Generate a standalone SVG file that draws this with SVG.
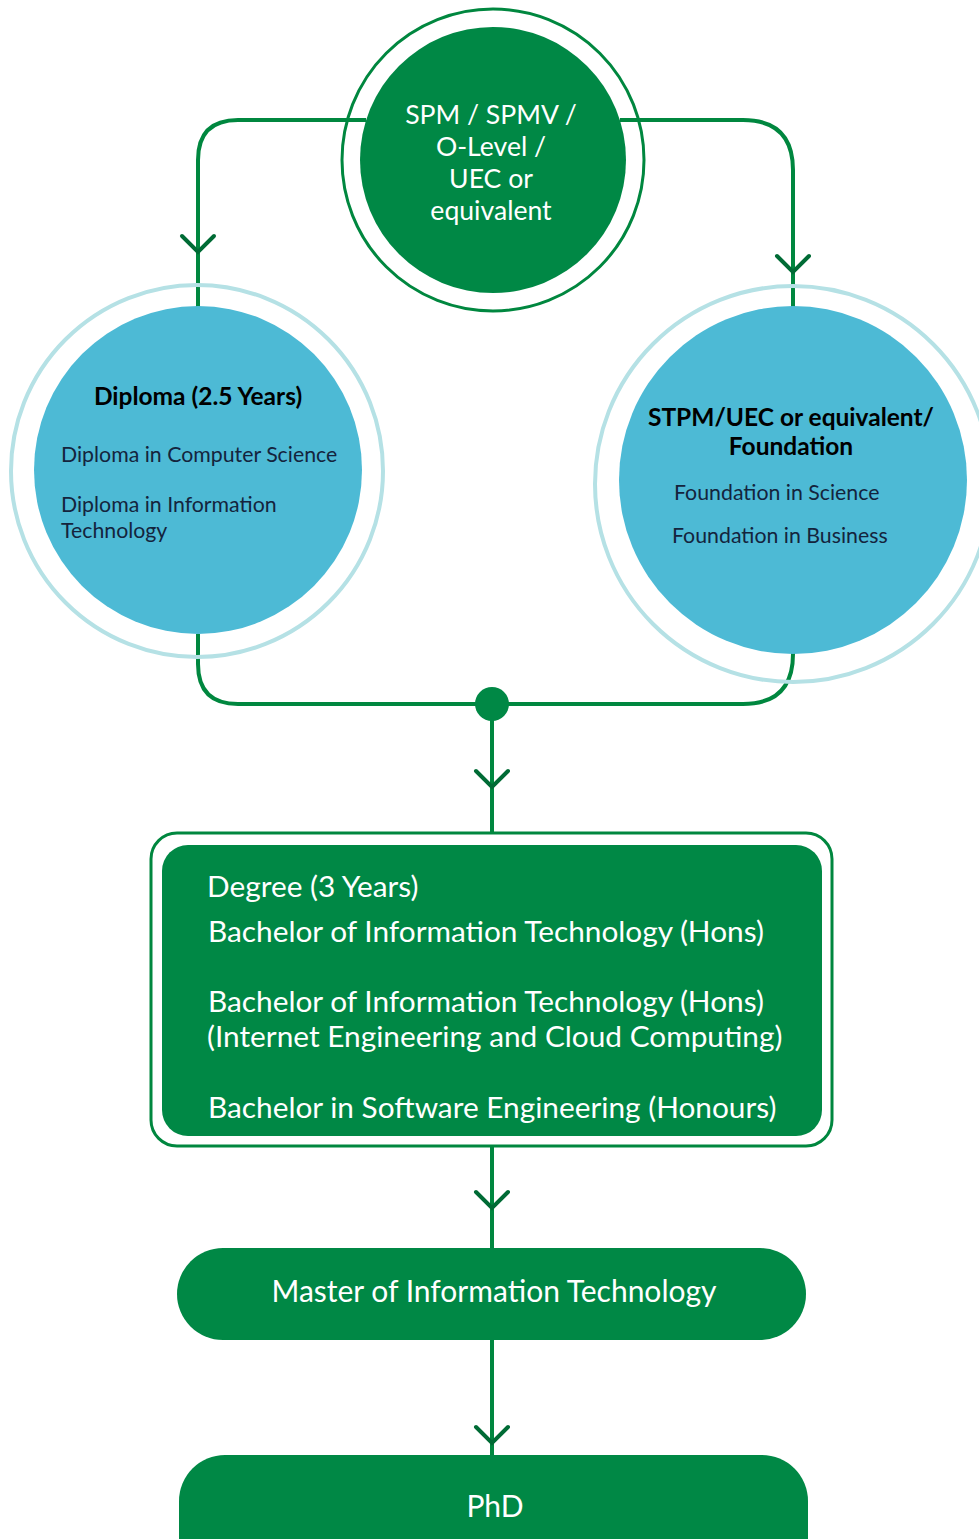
<svg xmlns="http://www.w3.org/2000/svg" width="979" height="1539" viewBox="0 0 979 1539">
<defs>
<style>
.conn{fill:none;stroke:#00873f;stroke-width:4}
.chev{fill:none;stroke:#006b35;stroke-width:4;stroke-linecap:round;stroke-linejoin:miter}
.green{fill:#008845}
.ring{fill:none;stroke:#00873f;stroke-width:3}
.lring{fill:none;stroke:#b5e1e5;stroke-width:4}
.blue{fill:#4dbad5}
.wt{font-family:Lato,"Liberation Sans",sans-serif;fill:#ffffff}
.hd{font-family:Lato,"Liberation Sans",sans-serif;font-weight:bold;fill:#000000;font-size:24.5px}
.it{font-family:Lato,"Liberation Sans",sans-serif;fill:#14243d;font-size:21.3px}
</style>
</defs>
<rect width="979" height="1539" fill="#ffffff"/>
<g id="connectors">
<path class="conn" d="M366,120 H238 Q198,120 198,160 V308"/>
<path class="conn" d="M620,120 H743 Q793,120 793,170 V307"/>
<path class="conn" d="M198,634 V664 Q198,704 238,704 H492"/>
<path class="conn" d="M793,653 V654 Q793,704 743,704 H492"/>
<path class="conn" d="M492,704 V846"/>
<path class="conn" d="M492,1135 V1249"/>
<path class="conn" d="M492,1339 V1456"/>
<path class="chev" d="M182,236 L198,252 L214,236"/>
<path class="chev" d="M777,256 L793,272 L809,256"/>
<path class="chev" d="M476,771 L492,787 L508,771"/>
<path class="chev" d="M476,1192 L492,1208 L508,1192"/>
<path class="chev" d="M476,1427 L492,1443 L508,1427"/>
<circle class="green" cx="492" cy="704" r="17"/>
</g>
<g id="node-spm">
<circle class="ring" cx="493" cy="160" r="151"/>
<circle class="green" cx="493" cy="160" r="133"/>
<text class="wt" font-size="26.6" text-anchor="middle" x="491"><tspan x="491" y="124">SPM / SPMV /</tspan><tspan x="491" y="156">O-Level /</tspan><tspan x="491" y="188">UEC or</tspan><tspan x="491" y="220">equivalent</tspan></text>
</g>
<g id="node-diploma">
<circle class="lring" cx="197" cy="471" r="186"/>
<circle class="blue" cx="198" cy="470" r="164"/>
<text class="hd" x="198" y="405" text-anchor="middle">Diploma (2.5 Years)</text>
<text class="it" x="61" y="462">Diploma in Computer Science</text>
<text class="it" x="61" y="512">Diploma in Information</text>
<text class="it" x="61" y="538">Technology</text>
</g>
<g id="node-stpm">
<circle class="lring" cx="793" cy="484" r="198"/>
<circle class="blue" cx="793" cy="480" r="174"/>
<text class="hd" x="791" y="426" text-anchor="middle">STPM/UEC or equivalent/</text>
<text class="hd" x="791" y="455" text-anchor="middle">Foundation</text>
<text class="it" x="674" y="500">Foundation in Science</text>
<text class="it" x="672" y="543">Foundation in Business</text>
</g>
<g id="node-degree">
<rect x="151" y="833" width="681" height="313" rx="26" fill="#ffffff" stroke="#00873f" stroke-width="3"/>
<rect class="green" x="162" y="845" width="660" height="291" rx="26"/>
<text class="wt" font-size="29.8" x="207" y="897">Degree (3 Years)</text>
<text class="wt" font-size="29.8" x="208" y="942">Bachelor of Information Technology (Hons)</text>
<text class="wt" font-size="29.8" x="208" y="1012">Bachelor of Information Technology (Hons)</text>
<text class="wt" font-size="29.8" x="207" y="1047">(Internet Engineering and Cloud Computing)</text>
<text class="wt" font-size="29.8" x="208" y="1118">Bachelor in Software Engineering (Honours)</text>
</g>
<g id="node-master">
<rect class="green" x="177" y="1248" width="629" height="92" rx="46"/>
<text class="wt" font-size="30" x="494" y="1302" text-anchor="middle">Master of Information Technology</text>
</g>
<g id="node-phd">
<rect class="green" x="179" y="1455" width="629" height="130" rx="46"/>
<text class="wt" font-size="30" x="495" y="1517" text-anchor="middle">PhD</text>
</g>
</svg>
